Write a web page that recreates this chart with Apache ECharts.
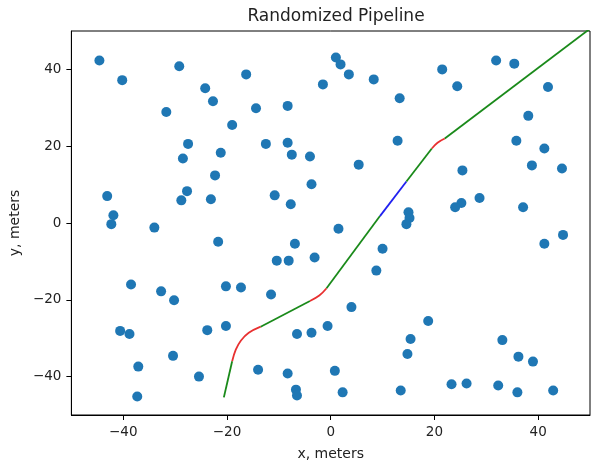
<!DOCTYPE html>
<html>
<head>
<meta charset="utf-8">
<script src="https://cdn.jsdelivr.net/npm/echarts@6/dist/echarts.min.js"></script>
<style>
  html, body { margin: 0; padding: 0; background: #fff; }
  #main { width: 592px; height: 466px; }
</style>
</head>
<body>
<div id="main"></div>
<script>
// scattered obstacles, meters
const pointsX = [
  -44.6, -40.2, -29.2, -31.7, -24.2, -22.7, -19.0, -27.5, -28.5, -21.2,
  -22.3, -43.1, -41.9, -42.3, -27.7, -28.8, -23.1, -10.8, -7.7, -12.5,
  -8.3, -7.5, -4.0, -3.7, -8.3, -14.4, -16.3, -1.5, -34.0, 1.0,
  1.9, 3.5, 8.3, 21.5, 24.4, 31.9, 35.4, 41.9, 13.3, 38.1,
  12.9, 35.8, 41.2, 5.4, 38.8, 44.6, 25.4, 28.7, 25.2, 24.0,
  37.1, 15.0, 15.2, 14.6, 1.5, -21.7, -6.9, -10.4, -8.1, -3.1,
  -38.5, -20.2, -17.3, -11.5, -32.7, -30.2, -20.2, -23.8, -40.6, -38.8,
  -6.5, -3.7, -0.6, -30.4, -37.1, -25.4, -14.0, -8.3, -6.7, -6.5,
  -37.3, 10.0, 8.8, 4.0, 18.8, 15.4, 14.8, 33.1, 36.2, 39.0,
  0.8, 2.3, 13.5, 23.3, 26.2, 32.3, 36.0, 42.9, 41.2, 44.8
];
const pointsY = [
  42.3, 37.2, 40.8, 28.9, 35.1, 31.7, 25.5, 20.6, 16.8, 18.3,
  12.4, 7.0, 2.0, -0.3, 8.3, 5.9, 6.2, 7.2, 4.9, 20.6,
  20.9, 17.8, 17.3, 10.1, 30.5, 29.9, 38.7, 36.1, -1.2, 43.1,
  41.3, 38.7, 37.4, 40.0, 35.6, 42.3, 41.5, 35.4, 32.5, 27.9,
  21.4, 21.4, 19.4, 15.2, 15.0, 14.2, 13.7, 6.5, 5.2, 4.1,
  4.1, 2.8, 1.3, -0.3, -1.5, -4.9, -5.4, -9.8, -9.8, -9.0,
  -16.0, -16.5, -16.8, -18.6, -17.8, -20.1, -26.8, -27.9, -28.1, -28.9,
  -28.9, -28.6, -26.8, -34.6, -37.4, -40.0, -38.2, -39.2, -43.4, -44.9,
  -45.2, -6.7, -12.4, -21.9, -25.5, -30.2, -34.1, -30.5, -34.8, -36.1,
  -38.5, -44.1, -43.6, -42.0, -41.8, -42.3, -44.1, -43.6, -5.4, -3.1
];

// pipeline pieces: straight runs (green), bends (red), one blue run
const pipeX = [
  [-20.6, -19.0],
  [-19.0, -18.3, -17.3, -15.8, -13.5],
  [-13.5, -4.0],
  [-4.0, -2.2, -0.8],
  [-0.8, 9.5],
  [9.5, 14.6],
  [14.6, 19.5],
  [19.5, 20.6, 22.0],
  [22.0, 50.0]
];
const pipeY = [
  [-45.4, -36.0],
  [-36.0, -33.0, -30.6, -28.6, -27.0],
  [-27.0, -20.3],
  [-20.3, -18.9, -17.0],
  [-17.0, 1.8],
  [1.8, 10.8],
  [10.8, 19.4],
  [19.4, 20.9, 22.0],
  [22.0, 50.6]
];
const pipeColors = ['g', 'r', 'g', 'r', 'g', 'b', 'g', 'r', 'g'];
const colorMap = { g: '#1a8a1a', r: '#e83030', b: '#2020f0' };

const xTicks = [-40, -20, 0, 20, 40];
const yTicks = [-40, -20, 0, 20, 40];

const font = 'DejaVu Sans';
const minus = v => String(v).replace('-', '\u2212');

var chartDom = document.getElementById('main');
var myChart = echarts.init(chartDom, null, { renderer: 'canvas' });

let series = [{
  type: 'scatter',
  data: pointsX.map((x, i) => [x, pointsY[i]]),
  symbolSize: 10,
  itemStyle: { color: '#1f77b4', opacity: 1 },
  z: 2,
  silent: true
}];

pipeX.forEach((xs, k) => {
  series.push({
    type: 'line',
    data: xs.map((x, i) => [x, pipeY[k][i]]),
    showSymbol: false,
    smooth: xs.length > 2 ? 0.4 : false,
    lineStyle: { color: colorMap[pipeColors[k]], width: 1.8 },
    z: 3,
    silent: true
  });
});

const axisCommon = (ticks, name, gap, rotate) => ({
  type: 'value',
  min: -50,
  max: 50,
  interval: 10,
  name: name,
  nameLocation: 'middle',
  nameGap: gap,
  nameRotate: rotate,
  nameTextStyle: { color: '#222', fontFamily: font, fontSize: 14 },
  axisLine: { show: true, onZero: false, lineStyle: { color: '#000', width: 1 } },
  axisTick: {
    show: true,
    length: 5,
    lineStyle: { color: '#000' },
    customValues: ticks
  },
  axisLabel: {
    color: '#222',
    fontFamily: font,
    fontSize: 13.5,
    margin: 10,
    customValues: ticks,
    formatter: minus
  },
  splitLine: { show: false }
});

let option = {
  backgroundColor: '#fff',
  animation: false,
  title: {
    text: 'Randomized Pipeline',
    left: 331,
    textAlign: 'center',
    top: 3,
    textStyle: { fontFamily: font, fontSize: 17, fontWeight: 'normal', color: '#222' }
  },
  grid: {
    left: 71,
    right: 2,
    top: 31,
    bottom: 48,
    show: true,
    borderColor: '#000',
    borderWidth: 1,
    backgroundColor: 'transparent'
  },
  xAxis: axisCommon(xTicks, 'x, meters', 32, 0),
  yAxis: axisCommon(yTicks, 'y, meters', 47, 90),
  series: series
};

myChart.setOption(option);
window.addEventListener('resize', () => {
  myChart.resize();
});
</script>
</body>
</html>
